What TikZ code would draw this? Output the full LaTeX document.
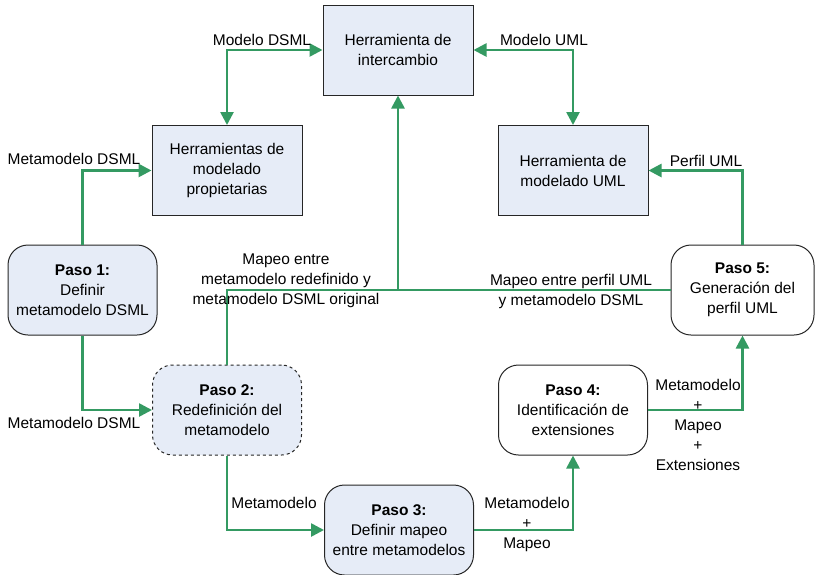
\documentclass[tikz,border=0pt]{standalone}
\usepackage{fontspec}
\setmainfont{Liberation Sans}
\usetikzlibrary{arrows.meta}
\definecolor{boxfill}{RGB}{230,236,247}
\definecolor{flowgreen}{RGB}{52,154,98}
\begin{document}
\begin{tikzpicture}[x=1pt,y=-1pt,
  txt/.style={font=\fontsize{15.5}{20}\selectfont, align=center},
  toolbox/.style={txt, draw=black!85, line width=1pt, fill=boxfill,
    minimum width=150pt, minimum height=90pt, inner sep=2pt},
  stepbox/.style={txt, draw=black!85, line width=1pt, fill=boxfill,
    rounded corners=20pt, minimum width=149pt, minimum height=90pt, inner sep=2pt},
  plainstep/.style={stepbox, fill=white},
  flow/.style={draw=flowgreen, line width=2.6pt,
    -{Triangle[length=13pt,width=13pt]}},
  flowboth/.style={flow, {Triangle[length=13pt,width=13pt]}-{Triangle[length=13pt,width=13pt]}},
  flowline/.style={draw=flowgreen, line width=2.6pt},
  lbl/.style={txt, inner sep=0pt}]
\useasboundingbox (0,0) rectangle (815,574);

% tools
\node[toolbox] (inter) at (398,50) {Herramienta de\\intercambio};
\node[toolbox] (prop) at (227,170.5) {Herramientas de\\modelado\\propietarias};
\node[toolbox] (umlt) at (573,170.5) {Herramienta de\\modelado UML};

% process steps
\node[stepbox] (p1) at (82.5,290) {\textbf{Paso 1:}\\Definir\\metamodelo DSML};
\node[stepbox, dashed] (p2) at (227,410) {\textbf{Paso 2:}\\Redefinición del\\metamodelo};
\node[stepbox] (p3) at (399,530) {\textbf{Paso 3:}\\Definir mapeo\\entre metamodelos};
\node[plainstep] (p4) at (573,410) {\textbf{Paso 4:}\\Identificación de\\extensiones};
\node[plainstep, minimum width=143pt] (p5) at (742.5,290) {\textbf{Paso 5:}\\Generación del\\perfil UML};

% junction of the two mapping lines
\coordinate (mj) at (inter.south |- p5.west);

% connectors
\draw[flowboth] (prop.north) |- (inter.west);
\draw[flowboth] (umlt.north) |- (inter.east);
\draw[flow] (p1.north) |- (prop.west);
\draw[flow] (p5.north) |- (umlt.east);
\draw[flow] (p1.south) |- (p2.west);
\draw[flow] (p2.north) |- (mj) -- (inter.south);
\draw[flowline] (p5.west) -- (mj);
\draw[flow] (p2.south) |- (p3.west);
\draw[flow] (p3.east) -| (p4.south);
\draw[flow] (p4.east) -| (p5.south);

% connector labels
\node[lbl] (lmd) at (262,40) {Modelo DSML};
\node[lbl] (lmu) at (544,40) {Modelo UML};
\node[lbl] (lmm1) at (74,159) {Metamodelo DSML};
\node[lbl] (lpu) at (706,161) {Perfil UML};
\node[lbl] (lmm2) at (74,423) {Metamodelo DSML};
\node[lbl] (lmap1) at (286,281) {Mapeo entre\\metamodelo redefinido y\\metamodelo DSML original};
\node[lbl] (lmap2) at (571,291.5) {Mapeo entre perfil UML\\y metamodelo DSML};
\node[lbl] (lmeta) at (274,503) {Metamodelo};
\node[lbl] (lmm3) at (527,524) {Metamodelo\\+\\Mapeo};
\node[lbl] (lmm4) at (698,424.5) {Metamodelo\\+\\Mapeo\\+\\Extensiones};
\end{tikzpicture}
\end{document}
